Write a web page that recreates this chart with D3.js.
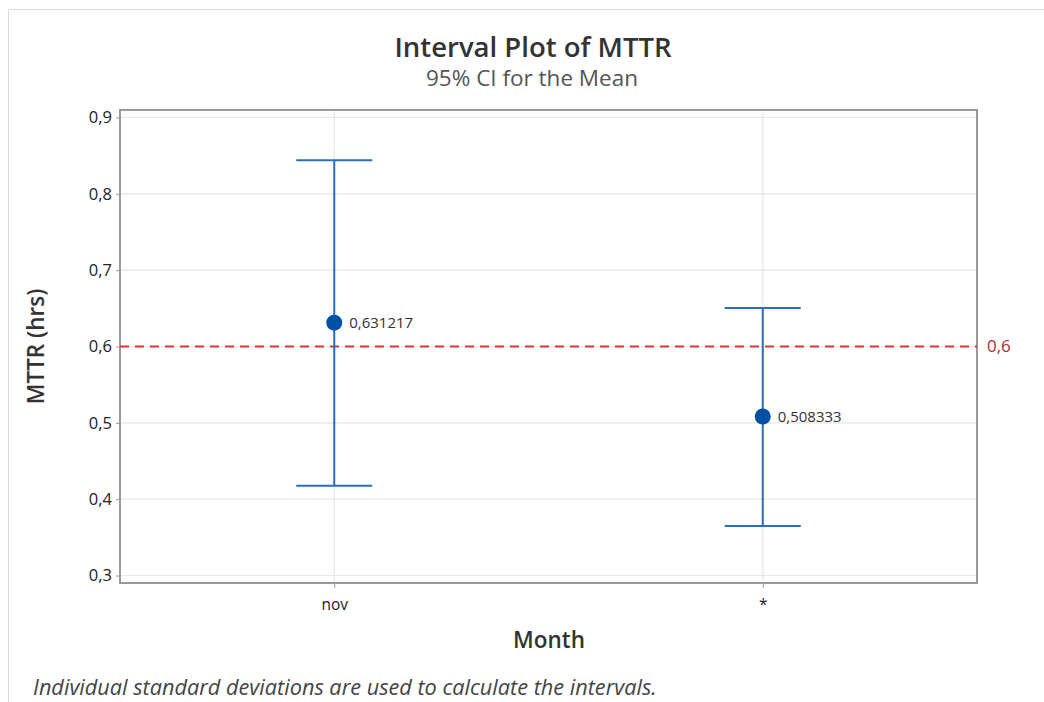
<!DOCTYPE html>
<html>
<head>
<meta charset="utf-8">
<script src="https://cdn.jsdelivr.net/npm/d3@7"></script>
<style>
  html, body { margin: 0; padding: 0; background: #fff; }
  svg { display: block; font-family: "Open Sans", "Noto Sans", sans-serif; }
</style>
</head>
<body>
<svg id="chart" width="1044" height="702"></svg>
<script>
// Interval plot data: one group per month
const categories = ["nov", "*"];
const means = [0.631217, 0.508333];
const lowerCI = [0.4175, 0.3650];
const upperCI = [0.8440, 0.6505];
const yTicks = [0.3, 0.4, 0.5, 0.6, 0.7, 0.8, 0.9];
const referenceValue = 0.6;

const svg = d3.select("#chart");
const W = 1044, H = 702;
const plot = { left: 120, right: 977, top: 110, bottom: 583 };

const comma = v => d3.format(".1f")(v).replace(".", ",");

// outer frame
svg.append("path")
  .attr("d", `M${W},9.5 H8.5 V${H}`)
  .attr("fill", "none").attr("stroke", "#dcdcdc").attr("stroke-width", 1);

const x = d3.scalePoint().domain(categories).range([plot.left, plot.right]).padding(0.5);
const y = d3.scaleLinear().domain([0.2902, 0.9098]).range([plot.bottom, plot.top]);

// gridlines
svg.append("g").selectAll("line").data(yTicks).join("line")
  .attr("x1", plot.left).attr("x2", plot.right)
  .attr("y1", d => y(d)).attr("y2", d => y(d))
  .attr("stroke", "#e6e6e6").attr("stroke-width", 1.2);
svg.append("g").selectAll("line").data(categories).join("line")
  .attr("x1", d => x(d)).attr("x2", d => x(d))
  .attr("y1", plot.top).attr("y2", plot.bottom)
  .attr("stroke", "#e6e6e6").attr("stroke-width", 1.2);

// axes
const yAxis = d3.axisLeft(y).tickValues(yTicks).tickFormat(comma).tickSize(4).tickPadding(4);
const gy = svg.append("g").attr("transform", `translate(${plot.left},0)`).call(yAxis);
gy.select(".domain").remove();
gy.selectAll(".tick line").attr("stroke", "#999");
gy.selectAll(".tick text").attr("fill", "#222").style("font-size", "16.5px")
  .style("font-family", "'Open Sans', sans-serif");

const xAxis = d3.axisBottom(x).tickSize(5).tickPadding(11);
const gx = svg.append("g").attr("transform", `translate(0,${plot.bottom})`).call(xAxis);
gx.select(".domain").remove();
gx.selectAll(".tick line").attr("stroke", "#999");
gx.selectAll(".tick text").attr("fill", "#222").style("font-size", "15.5px")
  .style("font-family", "'Open Sans', sans-serif");

// plot border
svg.append("rect")
  .attr("x", plot.left).attr("y", plot.top)
  .attr("width", plot.right - plot.left).attr("height", plot.bottom - plot.top)
  .attr("fill", "none").attr("stroke", "#9a9a9a").attr("stroke-width", 2);

// reference line
svg.append("line")
  .attr("x1", plot.left).attr("x2", plot.right)
  .attr("y1", y(referenceValue)).attr("y2", y(referenceValue))
  .attr("stroke", "#e03434").attr("stroke-width", 2)
  .attr("stroke-dasharray", "9,6");
svg.append("text")
  .attr("x", plot.right + 10).attr("y", y(referenceValue))
  .attr("dy", "0.35em")
  .attr("fill", "#b02a2a").style("font-size", "17px")
  .text(comma(referenceValue));

// intervals
const capHalf = 38;
const groups = svg.append("g").selectAll("g").data(categories).join("g");
groups.append("line")
  .attr("x1", d => x(d)).attr("x2", d => x(d))
  .attr("y1", (d, i) => y(upperCI[i])).attr("y2", (d, i) => y(lowerCI[i]))
  .attr("stroke", "#2a6ebb").attr("stroke-width", 2);
groups.append("line")
  .attr("x1", d => x(d) - capHalf).attr("x2", d => x(d) + capHalf)
  .attr("y1", (d, i) => y(upperCI[i])).attr("y2", (d, i) => y(upperCI[i]))
  .attr("stroke", "#2a6ebb").attr("stroke-width", 2);
groups.append("line")
  .attr("x1", d => x(d) - capHalf).attr("x2", d => x(d) + capHalf)
  .attr("y1", (d, i) => y(lowerCI[i])).attr("y2", (d, i) => y(lowerCI[i]))
  .attr("stroke", "#2a6ebb").attr("stroke-width", 2);
groups.append("circle")
  .attr("cx", d => x(d)).attr("cy", (d, i) => y(means[i]))
  .attr("r", 8).attr("fill", "#0050a4");
groups.append("text")
  .attr("x", d => x(d) + 15).attr("y", (d, i) => y(means[i]))
  .attr("dy", "0.35em")
  .attr("fill", "#333").style("font-size", "15px")
  .text((d, i) => String(means[i]).replace(".", ","));

// titles
svg.append("text").attr("x", 533).attr("y", 57).attr("text-anchor", "middle")
  .attr("fill", "#333").style("font-size", "27.5px").style("font-weight", "600")
  .text("Interval Plot of MTTR");
svg.append("text").attr("x", 532).attr("y", 86).attr("text-anchor", "middle")
  .attr("fill", "#555").style("font-size", "22.5px")
  .text("95% CI for the Mean");
svg.append("text").attr("x", 549).attr("y", 648).attr("text-anchor", "middle")
  .attr("fill", "#333").style("font-size", "22.5px").style("font-weight", "600")
  .text("Month");
svg.append("text")
  .attr("transform", `translate(44,${(plot.top + plot.bottom) / 2}) rotate(-90)`)
  .attr("text-anchor", "middle")
  .attr("fill", "#333").style("font-size", "22.5px").style("font-weight", "600")
  .text("MTTR (hrs)");
svg.append("text").attr("x", 33).attr("y", 695)
  .attr("fill", "#444").style("font-size", "21.7px").style("font-style", "italic")
  .text("Individual standard deviations are used to calculate the intervals.");
</script>
</body>
</html>
